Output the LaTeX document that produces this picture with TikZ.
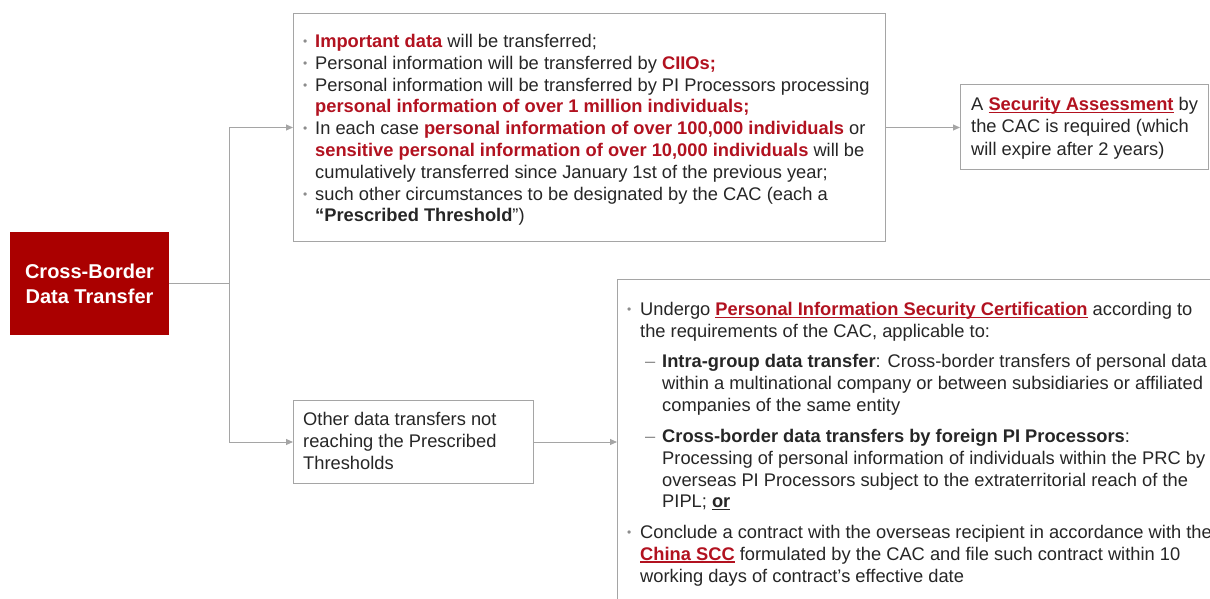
\documentclass[tikz,border=0pt]{standalone}
\usepackage{fontspec}
\setmainfont{Liberation Sans}
\usetikzlibrary{arrows.meta}
\definecolor{tred}{RGB}{178,18,32}
\definecolor{boxred}{RGB}{170,0,0}
\definecolor{lgray}{RGB}{165,165,165}
\definecolor{tdark}{RGB}{38,38,38}
\definecolor{bgray}{RGB}{140,140,140}
\newcommand\bul{\makebox[12pt][l]{\raisebox{2pt}{\color{bgray}\fontsize{12}{12}\selectfont•}}}
\newcommand\bulb{\makebox[13pt][l]{\raisebox{2pt}{\color{bgray}\fontsize{12}{12}\selectfont•}}}
\newcommand\ind{\hspace*{12pt}}
\newcommand\indb{\hspace*{13pt}}
\newcommand\dsh{\hspace*{18pt}\makebox[17pt][l]{\color{bgray}–}}
\newcommand\dind{\hspace*{35pt}}
\newcommand\myul[3]{\setbox0\hbox{#3}\rlap{\rule[-#1]{\wd0}{#2}}\box0}
\newcommand\rb[1]{\textcolor{tred}{\textbf{#1}}}
\begin{document}
\begin{tikzpicture}[x=1pt,y=-1pt,
  box/.style={draw=lgray, line width=1pt, fill=white, inner sep=0pt, anchor=north west},
  txt/.style={anchor=north west, inner sep=0pt, align=left, text=tdark,
    font=\fontsize{18.3}{21.8}\selectfont},
  conn/.style={draw=lgray, line width=1pt, -{Triangle[length=7pt,width=6pt]}}]
\useasboundingbox (0,0) rectangle (1210,599);

% boxes
\node[fill=boxred, inner sep=0pt, minimum width=159pt, minimum height=103pt,
  text=white, align=center, font=\bfseries\fontsize{20}{25}\selectfont]
  (cbdt) at (89.5,283.5) {Cross-Border\\Data Transfer};
\node[box, minimum width=592pt, minimum height=228pt] (topbox) at (293,13) {};
\node[box, minimum width=248pt, minimum height=85pt] (sa) at (960,84) {};
\node[box, minimum width=240pt, minimum height=83pt] (other) at (293,400) {};
\node[box, minimum width=640pt, minimum height=360pt] (cert) at (617,279) {};

% texts
\node[txt] (ttop) at (303,34) {%
\bul\rb{Important data} will be transferred;\\
\bul Personal information will be transferred by \rb{CIIOs;}\\
\bul Personal information will be transferred by PI Processors processing\\
\ind\rb{personal information of over 1 million individuals;}\\
\bul In each case \rb{personal information of over 100,000 individuals} or\\
\ind\rb{sensitive personal information of over 10,000 individuals} will be\\
\ind cumulatively transferred since January 1st of the previous year;\\
\bul such other circumstances to be designated by the CAC (each a\\
\ind\textbf{“Prescribed Threshold}”)};

\node[txt, font=\fontsize{18.3}{22.5}\selectfont] (tsa) at (971,97) {%
A \textcolor{tred}{\textbf{\myul{2.5pt}{1.2pt}{Security Assessment}}} by\\
the CAC is required (which\\
will expire after 2 years)};

\node[txt, font=\fontsize{18.3}{22}\selectfont] (tother) at (303,412) {%
Other data transfers not\\
reaching the Prescribed\\
Thresholds};

\node[txt] (tcert) at (627,302) {%
\bulb Undergo \textcolor{tred}{\textbf{\myul{2.5pt}{1.3pt}{Personal Information Security Certification}}} according to\\
\indb the requirements of the CAC, applicable to:\\[8.5pt]
\dsh\textbf{Intra-group data transfer}: Cross-border transfers of personal data\\
\dind within a multinational company or between subsidiaries or affiliated\\
\dind companies of the same entity\\[9.5pt]
\dsh\textbf{Cross-border data transfers by foreign PI Processors}:\\
\dind Processing of personal information of individuals within the PRC by\\
\dind overseas PI Processors subject to the extraterritorial reach of the\\
\dind PIPL; \textbf{\myul{2.5pt}{1.3pt}{or}}\\[9pt]
\bulb Conclude a contract with the overseas recipient in accordance with the\\
\indb\textcolor{tred}{\textbf{\myul{3pt}{2.2pt}{China SCC}}} formulated by the CAC and file such contract within 10\\
\indb working days of contract's effective date};

% connectors
\coordinate (j) at (229,283.5);
\draw[lgray, line width=1pt] (cbdt.east) -- (j);
\draw[conn] (j) |- (topbox.west);
\draw[conn] (j) |- (other.west);
\draw[conn] (topbox.east) -- (sa.west |- topbox.east);
\draw[conn] (other.east) -- (cert.west |- other.east);
\end{tikzpicture}
\end{document}
